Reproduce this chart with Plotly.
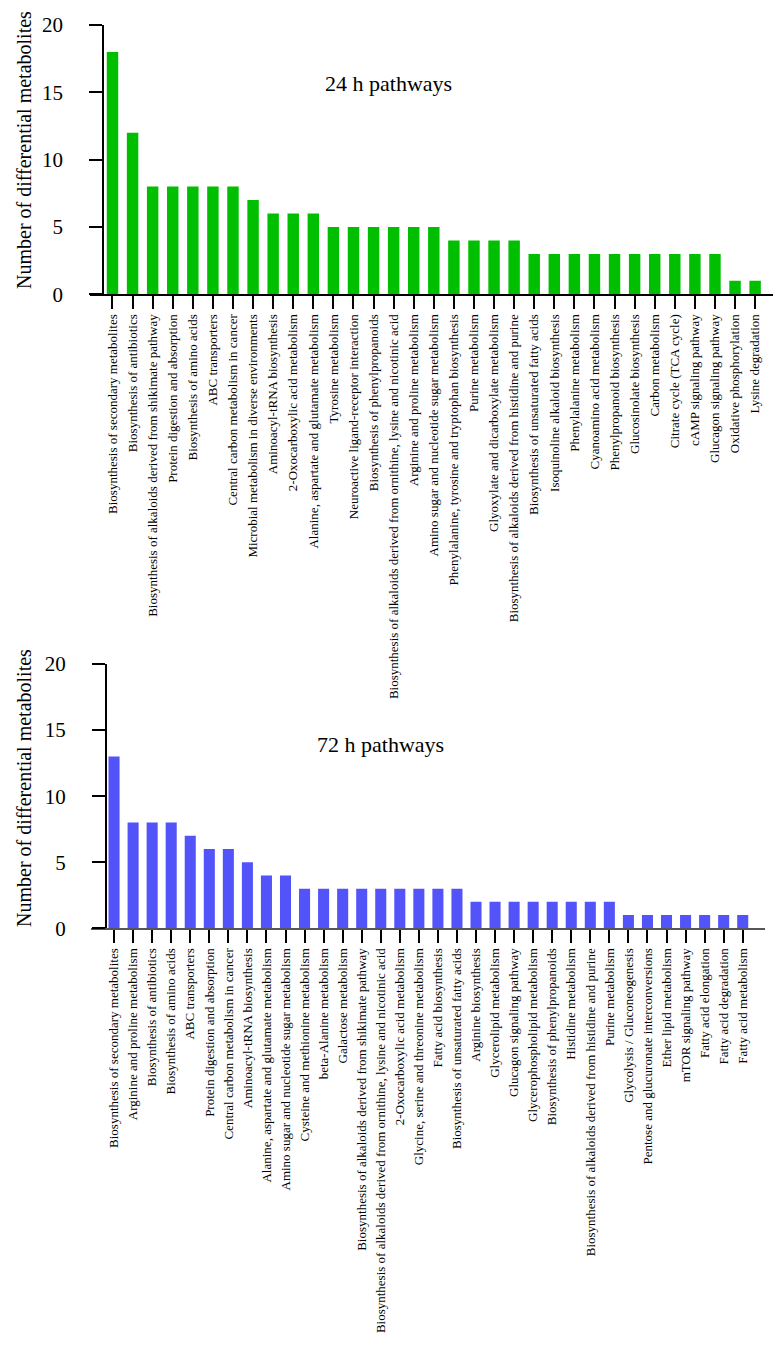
import plotly.graph_objects as go

# ---- data: 24 h ----
cats_24 = [
    "Biosynthesis of secondary metabolites",
    "Biosynthesis of antibiotics",
    "Biosynthesis of alkaloids derived from shikimate pathway",
    "Protein digestion and absorption",
    "Biosynthesis of amino acids",
    "ABC transporters",
    "Central carbon metabolism in cancer",
    "Microbial metabolism in diverse environments",
    "Aminoacyl-tRNA biosynthesis",
    "2-Oxocarboxylic acid metabolism",
    "Alanine, aspartate and glutamate metabolism",
    "Tyrosine metabolism",
    "Neuroactive ligand-receptor interaction",
    "Biosynthesis of phenylpropanoids",
    "Biosynthesis of alkaloids derived from ornithine, lysine and nicotinic acid",
    "Arginine and proline metabolism",
    "Amino sugar and nucleotide sugar metabolism",
    "Phenylalanine, tyrosine and tryptophan biosynthesis",
    "Purine metabolism",
    "Glyoxylate and dicarboxylate metabolism",
    "Biosynthesis of alkaloids derived from histidine and purine",
    "Biosynthesis of unsaturated fatty acids",
    "Isoquinoline alkaloid biosynthesis",
    "Phenylalanine metabolism",
    "Cyanoamino acid metabolism",
    "Phenylpropanoid biosynthesis",
    "Glucosinolate biosynthesis",
    "Carbon metabolism",
    "Citrate cycle (TCA cycle)",
    "cAMP signaling pathway",
    "Glucagon signaling pathway",
    "Oxidative phosphorylation",
    "Lysine degradation",
]
vals_24 = [18, 12, 8, 8, 8, 8, 8, 7, 6, 6, 6, 5, 5, 5, 5, 5, 5,
           4, 4, 4, 4, 3, 3, 3, 3, 3, 3, 3, 3, 3, 3, 1, 1]

# ---- data: 72 h ----
cats_72 = [
    "Biosynthesis of secondary metabolites",
    "Arginine and proline metabolism",
    "Biosynthesis of antibiotics",
    "Biosynthesis of amino acids",
    "ABC transporters",
    "Protein digestion and absorption",
    "Central carbon metabolism in cancer",
    "Aminoacyl-tRNA biosynthesis",
    "Alanine, aspartate and glutamate metabolism",
    "Amino sugar and nucleotide sugar metabolism",
    "Cysteine and methionine metabolism",
    "beta-Alanine metabolism",
    "Galactose metabolism",
    "Biosynthesis of alkaloids derived from shikimate pathway",
    "Biosynthesis of alkaloids derived from ornithine, lysine and nicotinic acid",
    "2-Oxocarboxylic acid metabolism",
    "Glycine, serine and threonine metabolism",
    "Fatty acid biosynthesis",
    "Biosynthesis of unsaturated fatty acids",
    "Arginine biosynthesis",
    "Glycerolipid metabolism",
    "Glucagon signaling pathway",
    "Glycerophospholipid metabolism",
    "Biosynthesis of phenylpropanoids",
    "Histidine metabolism",
    "Biosynthesis of alkaloids derived from histidine and purine",
    "Purine metabolism",
    "Glycolysis / Gluconeogenesis",
    "Pentose and glucuronate interconversions",
    "Ether lipid metabolism",
    "mTOR signaling pathway",
    "Fatty acid elongation",
    "Fatty acid degradation",
    "Fatty acid metabolism",
]
vals_72 = [13, 8, 8, 8, 7, 6, 6, 5, 4, 4, 3, 3, 3, 3, 3, 3, 3, 3, 3,
           2, 2, 2, 2, 2, 2, 2, 2, 1, 1, 1, 1, 1, 1, 1]

y_ticks = [0, 5, 10, 15, 20]
y_title = "Number of differential metabolites"
title_24 = "24 h pathways"
title_72 = "72 h pathways"

W, H = 782, 1345
SERIF = "Liberation Serif, Times New Roman, serif"


def px_x(p):
    return p / W


def px_y(p):
    return 1 - p / H


fig = go.Figure()
fig.add_trace(go.Bar(x=list(range(len(cats_24))), y=vals_24, width=0.57,
                     marker=dict(color="#00BF00", line=dict(width=0)),
                     xaxis="x", yaxis="y", showlegend=False))
fig.add_trace(go.Bar(x=list(range(len(cats_72))), y=vals_72, width=0.58,
                     marker=dict(color="#5353FA", line=dict(width=0)),
                     xaxis="x2", yaxis="y2", showlegend=False))

xcommon = dict(tickmode="array", tickangle=-90, ticks="outside", ticklen=13,
               tickwidth=2, tickcolor="black", showline=True, linewidth=1.5,
               showgrid=False, zeroline=False, automargin=False,
               tickfont=dict(family=SERIF, size=13, color="black"))
ycommon = dict(range=[0, 20], tickvals=y_ticks, ticks="outside", ticklen=13,
               tickwidth=1.5, tickcolor="black", showline=True, linewidth=2,
               linecolor="black", showgrid=False, zeroline=False,
               automargin=False, ticklabelstandoff=22,
               tickfont=dict(family=SERIF, size=21, color="black"))

fig.update_layout(
    xaxis=dict(domain=[px_x(90), px_x(773)], range=[-1.12, 32.89], anchor="y",
               tickvals=list(range(len(cats_24))), ticktext=cats_24,
               linecolor="black", **xcommon),
    yaxis=dict(domain=[px_y(294.3), px_y(25)], anchor="free",
               position=px_x(103.3), **ycommon),
    xaxis2=dict(domain=[px_x(91), px_x(765)], range=[-1.21, 34.17], anchor="y2",
                tickvals=list(range(len(cats_72))), ticktext=cats_72,
                linecolor="#555555", **xcommon),
    yaxis2=dict(domain=[px_y(928.3), px_y(664)], anchor="free",
                position=px_x(106), **ycommon),
)

ann_font = dict(family=SERIF, size=20, color="black")
fig.add_annotation(text=y_title, textangle=-90, x=px_x(24), y=px_y(150),
                   xref="paper", yref="paper", showarrow=False, font=ann_font,
                   xanchor="center", yanchor="middle")
fig.add_annotation(text=y_title, textangle=-90, x=px_x(24), y=px_y(788),
                   xref="paper", yref="paper", showarrow=False, font=ann_font,
                   xanchor="center", yanchor="middle")
fig.add_annotation(text=title_24, x=px_x(388), y=px_y(83),
                   xref="paper", yref="paper", showarrow=False,
                   font=dict(family=SERIF, size=22, color="black"),
                   xanchor="center", yanchor="middle")
fig.add_annotation(text=title_72, x=px_x(380), y=px_y(744),
                   xref="paper", yref="paper", showarrow=False,
                   font=dict(family=SERIF, size=22, color="black"),
                   xanchor="center", yanchor="middle")

fig.update_layout(template="none", width=W, height=H,
                  margin=dict(l=0, r=0, t=0, b=0, autoexpand=False),
                  paper_bgcolor="white", plot_bgcolor="white", bargap=0.43,
                  font=dict(family=SERIF, color="black"))

fig.write_html("out.html", config={"displayModeBar": False},
               post_script="document.body.style.margin='0px';")
